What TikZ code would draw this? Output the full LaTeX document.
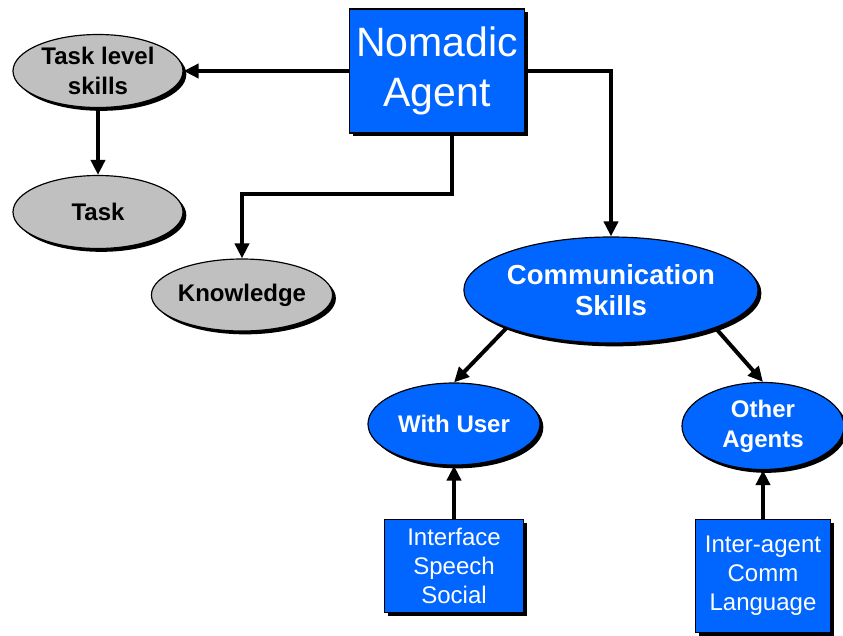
\documentclass[tikz,border=0pt]{standalone}
\usepackage{fontspec}
\setmainfont{Liberation Sans}
\usetikzlibrary{arrows.meta,shadows,shapes.geometric}
\definecolor{agentblue}{RGB}{0,102,255}
\definecolor{ovalgrey}{RGB}{192,192,192}
\tikzset{
	shade/.style={drop shadow={shadow xshift=0.1cm, shadow yshift=-0.1cm, fill=black, opacity=1}},
	greyoval/.style={ellipse, draw=black, line width=1pt, fill=ovalgrey, shade, inner sep=0pt, align=center, font=\bfseries\fontsize{20.5}{25.5}\selectfont},
	blueoval/.style={ellipse, draw=black, line width=1pt, fill=agentblue, shade, inner sep=0pt, align=center, text=white, font=\bfseries\fontsize{20.5}{25.5}\selectfont},
	bluebox/.style={rectangle, draw=black, line width=1pt, fill=agentblue, shade, inner sep=0pt, align=center, text=white, font=\fontsize{20.5}{24.7}\selectfont},
	flow/.style={line width=3.4pt, -{Triangle[length=0.45cm, width=0.42cm]}}
}

\begin{document}
\begin{tikzpicture}[x=0.03cm, y=-0.03cm]
			%%%%% START %%%%%
			\useasboundingbox[fill=white] (0, 0) rectangle (843, 635);
			
			\node[bluebox, minimum width=5.25cm, minimum height=3.72cm, font=\fontsize{35}{42.7}\selectfont] (agent) at (437, 71) {Nomadic\\Agent};
			
			\node[greyoval, minimum width=5.1cm, minimum height=2.19cm] (skills) at (98, 71) {Task level\\skills};
			\node[greyoval, minimum width=5.1cm, minimum height=2.19cm] (task) at (98, 212) {Task};
			\node[greyoval, minimum width=5.1cm, minimum height=2.16cm] (know) at (242, 295) {Knowledge};
			
			\node[blueoval, minimum width=7.86cm, minimum height=3.18cm, font=\bfseries\fontsize{23.5}{27}\selectfont] (comm) at (611, 290) {Communication\\Skills};
			\node[blueoval, minimum width=5.16cm, minimum height=2.46cm] (user) at (454, 424) {With User};
			\node[blueoval, minimum width=4.86cm, minimum height=2.61cm] (other) at (763, 426) {Other\\Agents};
			
			\node[bluebox, minimum width=4.17cm, minimum height=2.79cm] (iface) at (454, 566) {Interface\\Speech\\Social};
			\node[bluebox, minimum width=4.05cm, minimum height=3.39cm] (lang) at (763, 576) {Inter-agent\\Comm\\Language};
			
			\coordinate (kbend) at (452, 194);
			
			\draw[flow] (agent.west) -- (skills.east);
			\draw[flow] (skills.south) -- (task.north);
			\draw[flow] (agent.south -| kbend) -- (kbend) -| (know.north);
			\draw[flow] (agent.east) -| (comm.north);
			\draw[flow] (comm.south west) -- (user.north);
			\draw[flow] (comm.south east) -- (other.north);
			\draw[flow] (iface.north) -- (user.south);
			\draw[flow] (lang.north) -- (other.south);
			
			%%%%% END %%%%%
\end{tikzpicture}
\end{document}
